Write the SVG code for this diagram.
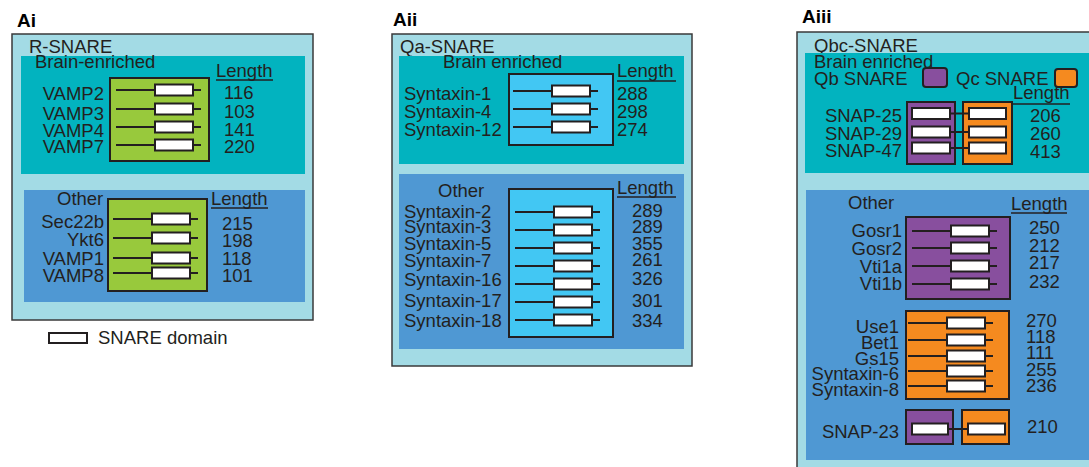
<svg xmlns="http://www.w3.org/2000/svg" xmlns:xlink="http://www.w3.org/1999/xlink" width="1089" height="467" viewBox="0 0 1089 467">
<style>
text{font-family:"Liberation Sans",Arial,sans-serif;font-size:18.5px;fill:#231f20}
.ttl{font-weight:bold;font-size:19px;fill:#000}
.r{text-anchor:end}
.outer{fill:#a3dbe5;stroke:#3a3a3a;stroke-width:1.5}
.teal{fill:#02b3bf}
.blue{fill:#4f98d3}
.box{stroke:#231f20;stroke-width:2}
.green{fill:#98c93c}
.cyan{fill:#42c7f3}
.purple{fill:#884f9e}
.orange{fill:#f58a1f}
.ul{stroke:#231f20;stroke-width:1.3}
.ln{stroke:#231f20;stroke-width:2}
.dm{fill:#fff;stroke:#231f20;stroke-width:2}
</style>
<defs>
<g id="dom"><line class="ln" x1="0" y1="0" x2="85" y2="0"/><rect class="dm" x="39" y="-5.5" width="38" height="11"/></g>
</defs>

<g id="panel-Ai">
<text class="ttl" x="17" y="27">Ai</text>
<rect class="outer" x="12" y="34" width="301" height="286"/>
<text x="29" y="53">R-SNARE</text>
<g id="Ai-brain">
<rect class="teal" x="21" y="56" width="284" height="118"/>
<text x="35" y="68">Brain-enriched</text>
<text x="216" y="77">Length</text><line class="ul" x1="216" y1="80" x2="273" y2="80"/>
<rect class="box green" x="110" y="78" width="99" height="83"/>
<use xlink:href="#dom" x="116" y="90"/><use xlink:href="#dom" x="116" y="109"/><use xlink:href="#dom" x="116" y="127"/><use xlink:href="#dom" x="116" y="145"/>
<text class="r" x="104" y="100">VAMP2</text><text class="r" x="104" y="120">VAMP3</text><text class="r" x="104" y="137">VAMP4</text><text class="r" x="104" y="153">VAMP7</text>
<text x="224" y="99">116</text><text x="224" y="118">103</text><text x="224" y="136">141</text><text x="224" y="153">220</text>
</g>
<g id="Ai-other">
<rect class="blue" x="24" y="190" width="281" height="112"/>
<text x="57" y="205">Other</text>
<text x="211" y="205">Length</text><line class="ul" x1="211" y1="208" x2="268" y2="208"/>
<rect class="box green" x="108" y="199" width="99" height="92"/>
<use xlink:href="#dom" x="113" y="219"/><use xlink:href="#dom" x="113" y="238"/><use xlink:href="#dom" x="113" y="258"/><use xlink:href="#dom" x="113" y="273"/>
<text class="r" x="104" y="228">Sec22b</text><text class="r" x="104" y="246">Ykt6</text><text class="r" x="104" y="265">VAMP1</text><text class="r" x="104" y="282">VAMP8</text>
<text x="222" y="230">215</text><text x="222" y="247">198</text><text x="222" y="265">118</text><text x="222" y="282">101</text>
</g>
<g id="legend">
<rect class="dm" x="49" y="333" width="38" height="10"/>
<text x="98" y="344">SNARE domain</text>
</g>
</g>

<g id="panel-Aii">
<text class="ttl" x="393" y="26">Aii</text>
<rect class="outer" x="392" y="34" width="300" height="332"/>
<text x="400" y="53">Qa-SNARE</text>
<g id="Aii-brain">
<rect class="teal" x="399" y="56" width="285" height="108"/>
<text x="443" y="68">Brain enriched</text>
<text x="617" y="77">Length</text><line class="ul" x1="617" y1="81" x2="676" y2="81"/>
<rect class="box cyan" x="509" y="74" width="104" height="71"/>
<use xlink:href="#dom" x="513" y="91"/><use xlink:href="#dom" x="513" y="109"/><use xlink:href="#dom" x="513" y="127"/>
<text x="404" y="100">Syntaxin-1</text><text x="404" y="118">Syntaxin-4</text><text x="404" y="136">Syntaxin-12</text>
<text x="617" y="100">288</text><text x="617" y="118">298</text><text x="617" y="136">274</text>
</g>
<g id="Aii-other">
<rect class="blue" x="399" y="174" width="285" height="175"/>
<text x="438" y="197">Other</text>
<text x="617" y="194">Length</text><line class="ul" x1="617" y1="197" x2="676" y2="197"/>
<rect class="box cyan" x="509" y="189" width="104" height="148"/>
<use xlink:href="#dom" x="515" y="212"/><use xlink:href="#dom" x="515" y="230"/><use xlink:href="#dom" x="515" y="248"/><use xlink:href="#dom" x="515" y="266"/><use xlink:href="#dom" x="515" y="284"/><use xlink:href="#dom" x="515" y="302"/><use xlink:href="#dom" x="515" y="320"/>
<text x="404" y="218">Syntaxin-2</text><text x="404" y="233">Syntaxin-3</text><text x="404" y="250">Syntaxin-5</text><text x="404" y="267">Syntaxin-7</text><text x="404" y="286">Syntaxin-16</text><text x="404" y="307">Syntaxin-17</text><text x="404" y="327">Syntaxin-18</text>
<text x="632" y="217">289</text><text x="632" y="233">289</text><text x="632" y="250">355</text><text x="632" y="266">261</text><text x="632" y="285">326</text><text x="632" y="307">301</text><text x="632" y="327">334</text>
</g>
</g>

<g id="panel-Aiii">
<text class="ttl" x="802" y="23">Aiii</text>
<rect class="outer" x="797" y="32" width="300" height="445"/>
<text x="814" y="52">Qbc-SNARE</text>
<g id="Aiii-brain">
<rect class="teal" x="805" y="53" width="290" height="120"/>
<text x="814" y="68">Brain enriched</text>
<text x="814" y="85">Qb SNARE</text>
<rect class="box purple" x="923" y="68" width="24" height="19" rx="3"/>
<text x="956" y="85">Qc SNARE</text>
<rect class="box orange" x="1055" y="69" width="22" height="18" rx="3"/>
<text x="1013" y="99">Length</text><line class="ul" x1="1013" y1="104" x2="1070" y2="104"/>
<rect class="box purple" x="907" y="102" width="48" height="62"/>
<rect class="box orange" x="963" y="102" width="49" height="62"/>
<line class="ln" x1="950" y1="113.5" x2="969" y2="113.5"/><rect class="dm" x="912" y="108" width="38" height="11"/><rect class="dm" x="969" y="108" width="37" height="11"/>
<line class="ln" x1="950" y1="132" x2="969" y2="132"/><rect class="dm" x="912" y="126.5" width="38" height="11"/><rect class="dm" x="969" y="126.5" width="37" height="11"/>
<line class="ln" x1="950" y1="148" x2="969" y2="148"/><rect class="dm" x="912" y="142.5" width="38" height="11"/><rect class="dm" x="969" y="142.5" width="37" height="11"/>
<text class="r" x="902" y="122">SNAP-25</text><text class="r" x="902" y="140">SNAP-29</text><text class="r" x="902" y="157">SNAP-47</text>
<text x="1030" y="122">206</text><text x="1030" y="140">260</text><text x="1030" y="158">413</text>
</g>
<g id="Aiii-other">
<rect class="blue" x="806" y="190" width="290" height="270"/>
<text x="848" y="209">Other</text>
<text x="1011" y="210">Length</text><line class="ul" x1="1011" y1="213" x2="1067" y2="213"/>
<rect class="box purple" x="906" y="217" width="104" height="82"/>
<use xlink:href="#dom" x="912" y="231"/><use xlink:href="#dom" x="912" y="248"/><use xlink:href="#dom" x="912" y="266"/><use xlink:href="#dom" x="912" y="284"/>
<text class="r" x="902" y="237">Gosr1</text><text class="r" x="902" y="255">Gosr2</text><text class="r" x="902" y="273">Vti1a</text><text class="r" x="902" y="290">Vti1b</text>
<text x="1029" y="234">250</text><text x="1029" y="252">212</text><text x="1029" y="269">217</text><text x="1029" y="288">232</text>
<rect class="box orange" x="906" y="311" width="103" height="88"/>
<use xlink:href="#dom" x="908" y="323"/><use xlink:href="#dom" x="908" y="340"/><use xlink:href="#dom" x="908" y="356"/><use xlink:href="#dom" x="908" y="371"/><use xlink:href="#dom" x="908" y="386"/>
<text class="r" x="899" y="333">Use1</text><text class="r" x="899" y="349">Bet1</text><text class="r" x="899" y="365">Gs15</text><text class="r" x="899" y="380">Syntaxin-6</text><text class="r" x="899" y="396">Syntaxin-8</text>
<text x="1026" y="327">270</text><text x="1026" y="343">118</text><text x="1026" y="359">111</text><text x="1026" y="376">255</text><text x="1026" y="392">236</text>
<rect class="box purple" x="906" y="410" width="47" height="34"/>
<rect class="box orange" x="962" y="410" width="47" height="34"/>
<line class="ln" x1="948" y1="429" x2="968" y2="429"/><rect class="dm" x="912" y="423.5" width="36" height="11"/><rect class="dm" x="968" y="423.5" width="37" height="11"/>
<text class="r" x="899" y="438">SNAP-23</text>
<text x="1027" y="433">210</text>
</g>
</g>
</svg>
